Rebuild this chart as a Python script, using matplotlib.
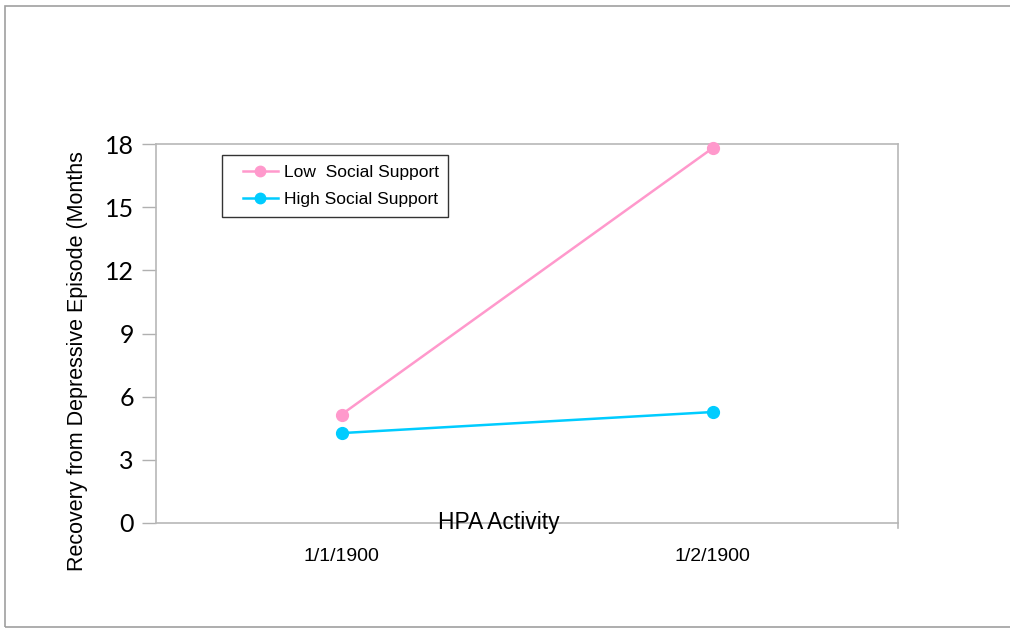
import matplotlib
matplotlib.use("Agg")
import matplotlib.pyplot as plt
from matplotlib.patches import Rectangle
from matplotlib.lines import Line2D
from matplotlib.legend_handler import HandlerLine2D

categories = ["1/1/1900", "1/2/1900"]
low_support = [5.15, 17.8]
high_support = [4.27, 5.27]
series_names = ["Low  Social Support", "High Social Support"]
y_ticks = [0, 3, 6, 9, 12, 15, 18]

W, H = 1010, 629
fig = plt.figure(figsize=(W / 100, H / 100), dpi=100)

# outer chart frame
fig.patches.append(Rectangle((5 / W, 2 / H), 1.2, (621) / H, transform=fig.transFigure,
                             fill=False, edgecolor="#a0a0a0", linewidth=1.2))

left, right, top, bottom = 156, 898, 144, 523
ax = fig.add_axes([left / W, 1 - bottom / H, (right - left) / W, (bottom - top) / H])

x = list(range(len(categories)))
ax.plot(x, low_support, color="#ff99cc", linewidth=1.8, marker="o", markersize=8.5,
        label=series_names[0], zorder=3, clip_on=False)
ax.plot(x, high_support, color="#00ccff", linewidth=1.8, marker="o", markersize=8.5,
        label=series_names[1], zorder=3, clip_on=False)

ax.set_xlim(-0.5, 1.5)
ax.set_ylim(0, 18)
ax.set_yticks(y_ticks)
ax.set_yticklabels([str(v) for v in y_ticks], fontfamily="Lato", fontsize=18)
ax.set_xticks(x)
ax.set_xticklabels(categories, fontfamily="Liberation Sans", fontsize=14)
ax.tick_params(axis="x", length=0, pad=18)
ax.tick_params(axis="y", length=10, width=1, color="#b0b0b0", pad=6)

for s in ax.spines.values():
    s.set_color("#b8b8b8")
    s.set_linewidth(1.2)

ax.set_ylabel("Recovery from Depressive Episode (Months", fontfamily="Liberation Sans",
              fontsize=15.5)
ax.yaxis.set_label_coords((88 - left) / (right - left), (bottom - 361) / (bottom - top))

# x-axis title sitting on the axis line
ax.text((499 - left) / (right - left), 0.0, "HPA Activity", transform=ax.transAxes,
        ha="center", va="center", fontfamily="Liberation Sans", fontsize=16.5, zorder=4)

# small downward tick at the right end of the x axis
ax.plot([1.5, 1.5], [0, -0.25], color="#b8b8b8", linewidth=1.2, clip_on=False)

leg = ax.legend(loc="upper left",
                bbox_to_anchor=((222 - left) / (right - left), 1 - (155 - top) / (bottom - top)),
                prop={"family": "Liberation Sans", "size": 12.5}, frameon=True, fancybox=False,
                edgecolor="black", borderpad=0.55, handlelength=2.65, labelspacing=0.7,
                handletextpad=0.35, borderaxespad=0,
                handler_map={Line2D: HandlerLine2D(xpad=0.67)})
leg.get_frame().set_linewidth(1.0)
for h in leg.legend_handles:
    h.set_markersize(7.5)

fig.savefig("out.png", dpi=100)
